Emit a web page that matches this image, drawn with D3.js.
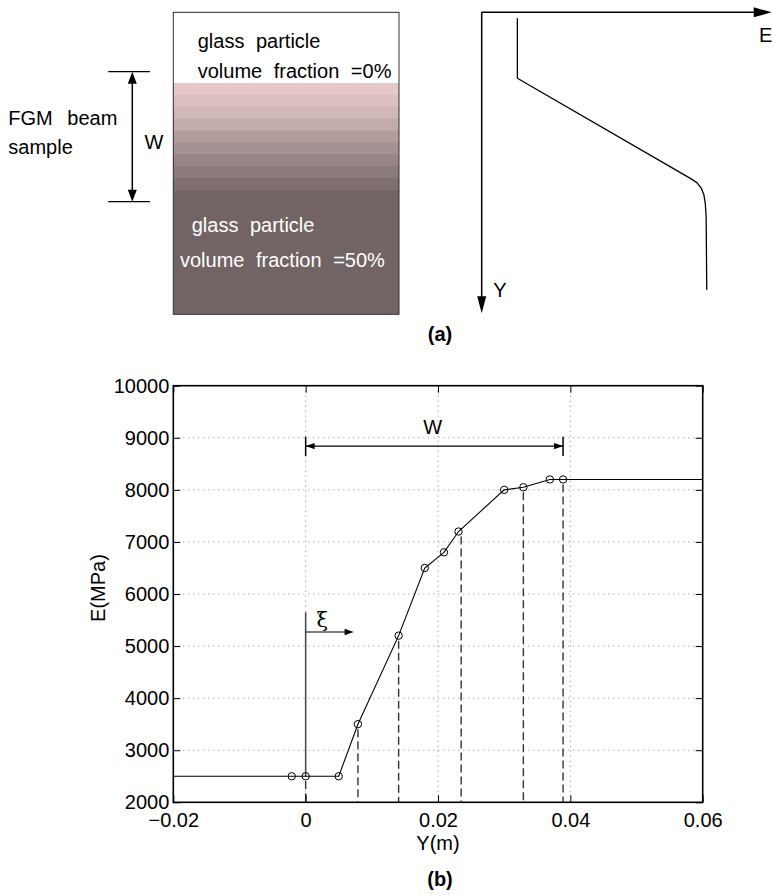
<!DOCTYPE html>
<html>
<head>
<meta charset="utf-8">
<script src="https://cdn.jsdelivr.net/npm/d3@7"></script>
<style>
body { margin: 0; background: #fff; }
svg { display: block; font-family: "Liberation Sans", Arial, Helvetica, sans-serif; }
</style>
</head>
<body>
<script>
// measured points of the E(Y) curve, panel (b)
var posY = [-0.0021, 0, 0.005, 0.0079, 0.01405, 0.018, 0.0209, 0.0231, 0.030, 0.0329, 0.0369, 0.0389];
var modE = [2500, 2500, 2500, 3500, 5200, 6500, 6800, 7200, 8000, 8050, 8200, 8200];
// dashed drop lines
var dropY = [0, 0.0079, 0.01405, 0.0235, 0.0329, 0.0389];
var dropE = [2500, 3500, 5200, 7200, 8050, 8200];
var xTicks = [-0.02, 0, 0.02, 0.04, 0.06];
var yTicks = [2000, 3000, 4000, 5000, 6000, 7000, 8000, 9000, 10000];
// panel (a): colour bands of the beam, top to bottom
var bandColors = ["#e6c8c9", "#dcbfc0", "#d1b6b6", "#c4abab", "#b39c9c", "#a69292", "#998585", "#8c7b7b", "#7f6f6f"];
// panel (a) schematic E(Y) profile, normalised to the axes
var schemE = [0.123, 0.123, 0.718, 0.742, 0.757, 0.766, 0.771, 0.774, 0.776];
var schemY = [0.02, 0.219, 0.551, 0.566, 0.584, 0.606, 0.635, 0.68, 0.922];

var svg = d3.select("body").append("svg")
	.attr("width", 773)
	.attr("height", 895);

function arrowHead(g, x, y, dir, len, half){
	// dir: "up","down","left","right" - tip at (x,y)
	var p;
	if (dir == "up") p = [[x,y],[x-half,y+len],[x+half,y+len]];
	else if (dir == "down") p = [[x,y],[x-half,y-len],[x+half,y-len]];
	else if (dir == "left") p = [[x,y],[x+len,y-half],[x+len,y+half]];
	else p = [[x,y],[x-len,y-half],[x-len,y+half]];
	g.append("path").attr("d", "M" + p.join("L") + "Z").attr("fill", "#000");
}

// ---------- panel (a), left: the beam ----------
var beam = svg.append("g");
var bx0 = 173.3, bx1 = 399, by0 = 12.3, by1 = 314.3;
var bandScale = d3.scaleBand().domain(d3.range(bandColors.length)).range([83, 190]);

beam.append("rect").attr("x", bx0).attr("y", by0).attr("width", bx1-bx0).attr("height", by1-by0)
	.attr("fill", "#726464");
beam.append("rect").attr("x", bx0).attr("y", by0).attr("width", bx1-bx0).attr("height", 83-by0)
	.attr("fill", "#fff");
beam.selectAll("rect.band").data(bandColors).enter().append("rect")
	.attr("class", "band")
	.attr("x", bx0)
	.attr("y", function(d, i){ return bandScale(i); })
	.attr("width", bx1-bx0)
	.attr("height", bandScale.bandwidth() + 0.5)
	.attr("fill", function(d){ return d; });
beam.append("rect").attr("x", bx0).attr("y", by0).attr("width", bx1-bx0).attr("height", by1-by0)
	.attr("fill", "none").attr("stroke", "#333").attr("stroke-width", 1);

var txt = beam.append("g").attr("font-size", 20).attr("word-spacing", 6);
txt.append("text").attr("x", 197.7).attr("y", 48.3).text("glass particle");
txt.append("text").attr("x", 197.7).attr("y", 77.7).text("volume fraction =0%");
txt.append("text").attr("x", 191.7).attr("y", 231.7).attr("fill", "#fff").text("glass particle");
txt.append("text").attr("x", 180).attr("y", 266.7).attr("fill", "#fff").text("volume fraction =50%");
txt.append("text").attr("x", 8.3).attr("y", 125).attr("word-spacing", 9).text("FGM beam");
txt.append("text").attr("x", 8.3).attr("y", 154).text("sample");
txt.append("text").attr("x", 154).attr("y", 149).attr("text-anchor", "middle").text("W");

// W dimension arrow
beam.append("line").attr("x1", 108.3).attr("x2", 150).attr("y1", 71.7).attr("y2", 71.7).attr("stroke", "#000").attr("stroke-width", 1.2);
beam.append("line").attr("x1", 108.3).attr("x2", 150).attr("y1", 201.7).attr("y2", 201.7).attr("stroke", "#000").attr("stroke-width", 1.2);
beam.append("line").attr("x1", 132.3).attr("x2", 132.3).attr("y1", 80).attr("y2", 193).attr("stroke", "#000").attr("stroke-width", 1.5);
arrowHead(beam, 132.3, 71.7, "up", 12, 4.5);
arrowHead(beam, 132.3, 201.7, "down", 12, 4.5);

// ---------- panel (a), right: schematic E(Y) ----------
var sch = svg.append("g");
var sx = d3.scaleLinear().domain([0, 1]).range([481.7, 771.7]);
var sy = d3.scaleLinear().domain([0, 1]).range([12.3, 313.3]);
sch.append("line").attr("x1", sx(0)).attr("x2", sx(1) - 15).attr("y1", sy(0)).attr("y2", sy(0)).attr("stroke", "#000").attr("stroke-width", 1.5);
sch.append("line").attr("x1", sx(0)).attr("x2", sx(0)).attr("y1", sy(0)).attr("y2", sy(1) - 15).attr("stroke", "#000").attr("stroke-width", 1.5);
arrowHead(sch, sx(1), sy(0), "right", 18, 5);
arrowHead(sch, sx(0), sy(1), "down", 17, 4.5);
sch.append("text").attr("x", 759).attr("y", 41.7).attr("font-size", 20).text("E");
sch.append("text").attr("x", 493.3).attr("y", 296.7).attr("font-size", 20).text("Y");
var profile = d3.line()
	.x(function(d){ return sx(d[0]); })
	.y(function(d){ return sy(d[1]); });
sch.append("path")
	.attr("d", profile(d3.zip(schemE, schemY)))
	.attr("fill", "none").attr("stroke", "#000").attr("stroke-width", 1.3)
	.attr("stroke-linejoin", "round");

svg.append("text").attr("x", 440).attr("y", 341).attr("text-anchor", "middle")
	.attr("font-size", 20).attr("font-weight", "bold").text("(a)");

// ---------- panel (b) ----------
var pLeft = 173.3, pRight = 702.7, pTop = 385.7, pBottom = 802.3;
var x = d3.scaleLinear().domain([-0.02, 0.06]).range([pLeft, pRight]);
var y = d3.scaleLinear().domain([2000, 10000]).range([pBottom, pTop]);
var plot = svg.append("g");

// grid
plot.selectAll("line.gx").data(xTicks.slice(1, -1)).enter().append("line")
	.attr("class", "gx")
	.attr("x1", function(d){ return x(d); }).attr("x2", function(d){ return x(d); })
	.attr("y1", pTop).attr("y2", pBottom)
	.attr("stroke", "#888").attr("stroke-width", 1).attr("stroke-dasharray", "1,4");
plot.selectAll("line.gy").data(yTicks.slice(1, -1)).enter().append("line")
	.attr("class", "gy")
	.attr("y1", function(d){ return y(d); }).attr("y2", function(d){ return y(d); })
	.attr("x1", pLeft).attr("x2", pRight)
	.attr("stroke", "#888").attr("stroke-width", 1).attr("stroke-dasharray", "1,4");

// dashed drop lines
plot.selectAll("line.drop").data(d3.zip(dropY, dropE)).enter().append("line")
	.attr("class", "drop")
	.attr("x1", function(d){ return x(d[0]); }).attr("x2", function(d){ return x(d[0]); })
	.attr("y1", function(d){ return y(d[1]) + 5; }).attr("y2", pBottom)
	.attr("stroke", "#333").attr("stroke-width", 1.4).attr("stroke-dasharray", "8,4");

// xi marker
plot.append("line").attr("x1", x(0)).attr("x2", x(0)).attr("y1", y(5650)).attr("y2", y(2500))
	.attr("stroke", "#444").attr("stroke-width", 1.5);
plot.append("line").attr("x1", x(0)).attr("x2", x(0.00725) - 8).attr("y1", y(5270)).attr("y2", y(5270))
	.attr("stroke", "#000").attr("stroke-width", 1.2);
arrowHead(plot, x(0.00725), y(5270), "right", 9, 3.2);
plot.append("text").attr("x", x(0.0025)).attr("y", y(5360)).attr("font-size", 21)
	.attr("font-family", "DejaVu Serif, serif").attr("text-anchor", "middle").text("ξ");

// W dimension
plot.append("line").attr("x1", x(0)).attr("x2", x(0.0389)).attr("y1", y(8840)).attr("y2", y(8840))
	.attr("stroke", "#000").attr("stroke-width", 1.2);
[0, 0.0389].forEach(function(v){
	plot.append("line").attr("x1", x(v)).attr("x2", x(v)).attr("y1", y(9020)).attr("y2", y(8650))
		.attr("stroke", "#000").attr("stroke-width", 1.5);
});
arrowHead(plot, x(0), y(8840), "left", 9, 3.2);
arrowHead(plot, x(0.0389), y(8840), "right", 9, 3.2);
plot.append("text").attr("x", x(0.0192)).attr("y", y(9080)).attr("font-size", 20)
	.attr("text-anchor", "middle").text("W");

// curve
var curve = d3.line()
	.x(function(d){ return x(d[0]); })
	.y(function(d){ return y(d[1]); });
var full = [[-0.02, modE[0]]].concat(d3.zip(posY, modE), [[0.06, modE[modE.length-1]]]);
plot.append("path").attr("d", curve(full))
	.attr("fill", "none").attr("stroke", "#000").attr("stroke-width", 1.1);
plot.selectAll("circle").data(d3.zip(posY, modE)).enter().append("circle")
	.attr("cx", function(d){ return x(d[0]); })
	.attr("cy", function(d){ return y(d[1]); })
	.attr("r", 3.7)
	.attr("fill", "none").attr("stroke", "#000").attr("stroke-width", 1);

// axes
var fmtX = d3.format("~g");
var gx = plot.append("g").attr("transform", "translate(0," + pBottom + ")")
	.call(d3.axisBottom(x).tickValues(xTicks).tickSizeInner(-7).tickSizeOuter(0).tickPadding(11).tickFormat(fmtX));
var gy = plot.append("g").attr("transform", "translate(" + pLeft + ",0)")
	.call(d3.axisLeft(y).tickValues(yTicks).tickSizeInner(-7).tickSizeOuter(0).tickPadding(4).tickFormat(d3.format("d")));
var gt = plot.append("g").attr("transform", "translate(0," + pTop + ")")
	.call(d3.axisTop(x).tickValues(xTicks).tickSizeInner(-7).tickSizeOuter(0).tickFormat(""));
var gr = plot.append("g").attr("transform", "translate(" + pRight + ",0)")
	.call(d3.axisRight(y).tickValues(yTicks).tickSizeInner(-7).tickSizeOuter(0).tickFormat(""));
[gx, gy, gt, gr].forEach(function(g){
	g.select(".domain").remove();
	g.attr("font-family", null).attr("font-size", 20);
	g.selectAll("line").attr("stroke", "#000").attr("stroke-width", 1);
	g.selectAll("text").attr("fill", "#000");
});
plot.append("rect").attr("x", pLeft).attr("y", pTop).attr("width", pRight-pLeft).attr("height", pBottom-pTop)
	.attr("fill", "none").attr("stroke", "#000").attr("stroke-width", 1.6);

plot.append("text").attr("x", x(0.02)).attr("y", 850).attr("text-anchor", "middle")
	.attr("font-size", 20).text("Y(m)");
plot.append("text").attr("transform", "translate(105,588) rotate(-90)").attr("text-anchor", "middle")
	.attr("font-size", 20).text("E(MPa)");
svg.append("text").attr("x", 440).attr("y", 886).attr("text-anchor", "middle")
	.attr("font-size", 20).attr("font-weight", "bold").text("(b)");
</script>
</body>
</html>
